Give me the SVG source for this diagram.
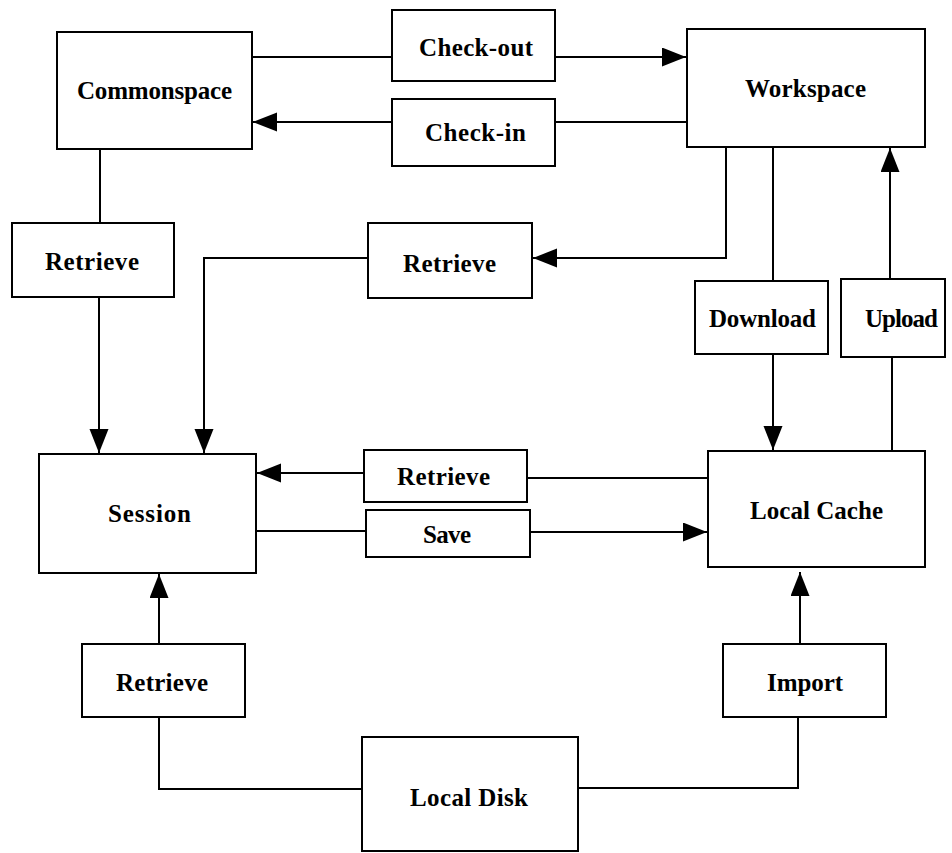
<svg xmlns="http://www.w3.org/2000/svg" width="952" height="853" viewBox="0 0 952 853">
<defs>
<style>
.box{fill:#fff;stroke:#000;stroke-width:2}
.lbl{font-family:"Liberation Serif","Times New Roman",serif;font-weight:bold;font-size:25px;fill:#000}
.c{fill:none;stroke:#000;stroke-width:2}
</style>
<marker id="ah" markerUnits="userSpaceOnUse" markerWidth="26" markerHeight="20" refX="24" refY="9.5" orient="auto" viewBox="0 0 26 20">
<path d="M0,0 L24,9.5 L0,19 z" fill="#000"/>
</marker>
</defs>
<rect width="952" height="853" fill="#fff"/>
<g id="connectors">
<line class="c" x1="252" y1="57" x2="392" y2="57"/>
<line class="c" x1="555" y1="57" x2="686" y2="57" marker-end="url(#ah)"/>
<line class="c" x1="687" y1="122" x2="555" y2="122"/>
<line class="c" x1="392" y1="122" x2="253" y2="122" marker-end="url(#ah)"/>
<line class="c" x1="100" y1="149" x2="100" y2="223"/>
<line class="c" x1="99" y1="297" x2="99" y2="453" marker-end="url(#ah)"/>
<polyline class="c" points="726,147 726,258 533,258" marker-end="url(#ah)"/>
<polyline class="c" points="368,258 204,258 204,453" marker-end="url(#ah)"/>
<line class="c" x1="773" y1="147" x2="773" y2="281"/>
<line class="c" x1="773" y1="354" x2="773" y2="450" marker-end="url(#ah)"/>
<line class="c" x1="892" y1="451" x2="892" y2="357"/>
<line class="c" x1="890" y1="279" x2="890" y2="148" marker-end="url(#ah)"/>
<line class="c" x1="708" y1="478" x2="527" y2="478"/>
<line class="c" x1="364" y1="473" x2="257" y2="473" marker-end="url(#ah)"/>
<line class="c" x1="256" y1="531" x2="366" y2="531"/>
<line class="c" x1="530" y1="532" x2="707" y2="532" marker-end="url(#ah)"/>
<polyline class="c" points="362,789 159,789 159,717"/>
<line class="c" x1="159" y1="644" x2="159" y2="574" marker-end="url(#ah)"/>
<polyline class="c" points="578,788 798,788 798,717"/>
<line class="c" x1="800" y1="644" x2="800" y2="572" marker-end="url(#ah)"/>
</g>
<g id="commonspace"><rect class="box" x="57" y="32" width="195" height="117"/><text class="lbl" x="77" y="99" textLength="155" lengthAdjust="spacing">Commonspace</text></g>
<g id="checkout"><rect class="box" x="392" y="10" width="163" height="71"/><text class="lbl" x="419" y="56" textLength="114" lengthAdjust="spacing">Check-out</text></g>
<g id="checkin"><rect class="box" x="392" y="99" width="163" height="67"/><text class="lbl" x="425" y="141" textLength="101" lengthAdjust="spacing">Check-in</text></g>
<g id="workspace"><rect class="box" x="687" y="29" width="238" height="118"/><text class="lbl" x="745" y="97" textLength="121" lengthAdjust="spacing">Workspace</text></g>
<g id="retrieve-left"><rect class="box" x="12" y="223" width="162" height="74"/><text class="lbl" x="45" y="270" textLength="94" lengthAdjust="spacing">Retrieve</text></g>
<g id="retrieve-top"><rect class="box" x="368" y="223" width="164" height="75"/><text class="lbl" x="403" y="272" textLength="93" lengthAdjust="spacing">Retrieve</text></g>
<g id="download"><rect class="box" x="695" y="281" width="133" height="73"/><text class="lbl" x="709" y="327" textLength="107" lengthAdjust="spacing">Download</text></g>
<g id="upload"><rect class="box" x="841" y="279" width="104" height="78"/><text class="lbl" x="865" y="327" textLength="73" lengthAdjust="spacing">Upload</text></g>
<g id="session"><rect class="box" x="39" y="454" width="217" height="119"/><text class="lbl" x="108" y="522" textLength="83" lengthAdjust="spacing">Session</text></g>
<g id="retrieve-mid"><rect class="box" x="364" y="450" width="163" height="52"/><text class="lbl" x="397" y="485" textLength="93" lengthAdjust="spacing">Retrieve</text></g>
<g id="save"><rect class="box" x="366" y="510" width="164" height="47"/><text class="lbl" x="423" y="543" textLength="48" lengthAdjust="spacing">Save</text></g>
<g id="localcache"><rect class="box" x="708" y="451" width="217" height="116"/><text class="lbl" x="750" y="519" textLength="133" lengthAdjust="spacing">Local Cache</text></g>
<g id="retrieve-bottom"><rect class="box" x="82" y="644" width="163" height="73"/><text class="lbl" x="116" y="691" textLength="92" lengthAdjust="spacing">Retrieve</text></g>
<g id="import"><rect class="box" x="723" y="644" width="163" height="73"/><text class="lbl" x="767" y="691" textLength="76" lengthAdjust="spacing">Import</text></g>
<g id="localdisk"><rect class="box" x="362" y="737" width="216" height="114"/><text class="lbl" x="410" y="806" textLength="118" lengthAdjust="spacing">Local Disk</text></g>
</svg>
